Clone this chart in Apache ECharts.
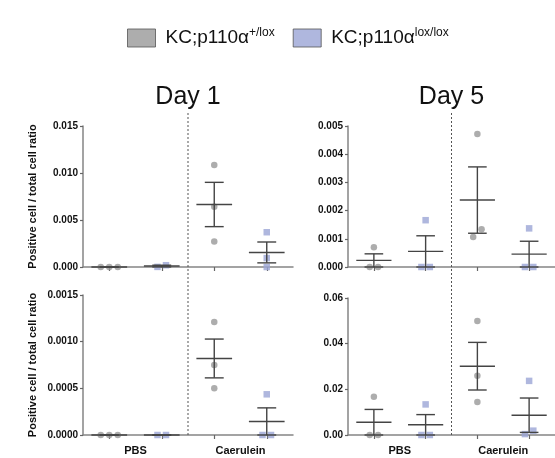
<!DOCTYPE html>
<html>
<head>
<meta charset="utf-8">
<script src="https://cdn.jsdelivr.net/npm/echarts@6/dist/echarts.min.js"></script>
<style>
  html, body { margin: 0; padding: 0; background: #fff; }
  #main { width: 555px; height: 458px; }
</style>
</head>
<body>
<div id="main"></div>
<script>
// groups on the x axis and the two genotypes
var groups = ['PBS', 'Caerulein'];
var seriesNames = ['KC;p110α+/lox', 'KC;p110αlox/lox'];

// values per panel: [PBS values, Caerulein values]
var day1TopHet = [[0, 0, 0], [0.01085, 0.0064, 0.0027]];
var day1TopFlox = [[0.00001, 0.00019], [0.0037, 0.00095, 0]];
var day1BotHet = [[0, 0, 0], [0.00121, 0.00075, 0.0005]];
var day1BotFlox = [[0, 0], [0.000436, 0, 0]];
var day5TopHet = [[0.0007, 0, 0], [0.00472, 0.00106, 0.00134]];
var day5TopFlox = [[0.00166, 0, 0], [0.00137, 0, 0]];
var day5BotHet = [[0.0168, 0, 0], [0.0499, 0.026, 0.0145]];
var day5BotFlox = [[0.0134, 0, 0], [0.0237, 0.0004, 0.0019]];

// y tick labels of each panel
var day1TopTicks = [0, 0.005, 0.010, 0.015];
var day1BotTicks = [0, 0.0005, 0.0010, 0.0015];
var day5TopTicks = [0, 0.001, 0.002, 0.003, 0.004, 0.005];
var day5BotTicks = [0, 0.02, 0.04, 0.06];

var colors = ['#999999', '#9ba5d6'];
var font = 'Liberation Sans';

var panels = [
    { grid: { left: 83, top: 126, width: 210, height: 141 }, ticks: day1TopTicks, digits: 3, data: [day1TopHet, day1TopFlox], bottom: false, title: true },
    { grid: { left: 83, top: 295, width: 210, height: 140 }, ticks: day1BotTicks, digits: 4, data: [day1BotHet, day1BotFlox], bottom: true, title: true },
    { grid: { left: 348, top: 126, width: 210, height: 141 }, ticks: day5TopTicks, digits: 3, data: [day5TopHet, day5TopFlox], bottom: false, title: false },
    { grid: { left: 348, top: 298, width: 210, height: 137 }, ticks: day5BotTicks, digits: 2, data: [day5BotHet, day5BotFlox], bottom: true, title: false }
];

// points that sit at (nearly) the same height are spread sideways
function spread(values, thr) {
    var idx = values.map(function (v, i) { return i; }).sort(function (a, b) { return values[a] - values[b]; });
    var off = values.map(function () { return 0; });
    var cluster = [idx[0]];
    function flush() {
        cluster.forEach(function (k, j) { off[k] = (j - (cluster.length - 1) / 2) * 0.162; });
    }
    for (var j = 1; j < idx.length; j++) {
        if (values[idx[j]] - values[idx[j - 1]] < thr) cluster.push(idx[j]);
        else { flush(); cluster = [idx[j]]; }
    }
    flush();
    return off;
}

function meanSem(v) {
    var n = v.length;
    var m = v.reduce(function (a, b) { return a + b; }, 0) / n;
    var ss = v.reduce(function (a, b) { return a + (b - m) * (b - m); }, 0);
    return [m, Math.sqrt(ss / (n - 1)) / Math.sqrt(n)];
}

function renderBar(params, api) {
    var x = api.value(0), m = api.value(1), s = api.value(2);
    var st = { stroke: '#444', lineWidth: 1.4 };
    function seg(dx1, y1, dx2, y2) {
        var a = api.coord([x + dx1, y1]), b = api.coord([x + dx2, y2]);
        return { type: 'line', shape: { x1: a[0], y1: a[1], x2: b[0], y2: b[1] }, style: st };
    }
    return {
        type: 'group',
        children: [
            seg(0, m - s, 0, m + s),
            seg(-0.18, m + s, 0.18, m + s),
            seg(-0.18, m - s, 0.18, m - s),
            seg(-0.34, m, 0.34, m)
        ]
    };
}

var grids = [], xAxes = [], yAxes = [], series = [];
panels.forEach(function (p, pi) {
    grids.push(p.grid);
    var ticks = p.ticks, top = ticks[ticks.length - 1];
    xAxes.push({
        type: 'value', gridIndex: pi, min: 0, max: 4,
        splitLine: { show: false },
        axisLine: { show: true, onZero: false, lineStyle: { color: '#858585', width: 1.5 } },
        axisTick: { show: true, length: 4, customValues: [0.5, 1.5, 2.5, 3.5], lineStyle: { color: '#666', width: 1.2 } },
        axisLabel: {
            show: p.bottom, customValues: [1, 3], margin: 10,
            formatter: function (v) { return groups[Math.round((v - 1) / 2)]; },
            color: '#111', fontWeight: 'bold', fontSize: 11, fontFamily: font
        }
    });
    yAxes.push({
        type: 'value', gridIndex: pi, min: ticks[0], max: top, interval: ticks[1] - ticks[0],
        splitLine: { show: false },
        axisLine: { show: true, lineStyle: { color: '#858585', width: 1.5 } },
        axisTick: { show: true, length: 3, lineStyle: { color: '#666', width: 1.2 } },
        axisLabel: {
            margin: 5, color: '#111', fontWeight: 'bold', fontSize: 10, fontFamily: font,
            formatter: function (v) { return v.toFixed(p.digits); }
        },
        name: p.title ? 'Positive cell / total cell ratio' : '',
        nameLocation: 'middle', nameGap: 45,
        nameTextStyle: { color: '#111', fontWeight: 'bold', fontSize: 11, fontFamily: font }
    });
    p.data.forEach(function (geno, gi) {
        var pts = [], bars = [];
        geno.forEach(function (vals, ci) {
            var xc = ci * 2 + gi + 0.5;
            var off = spread(vals, top * 0.06);
            vals.forEach(function (v, k) { pts.push([xc + off[k], v]); });
            var ms = meanSem(vals);
            bars.push([xc, ms[0], ms[1]]);
        });
        series.push({
            name: seriesNames[gi], type: 'scatter', xAxisIndex: pi, yAxisIndex: pi,
            symbol: gi === 0 ? 'circle' : 'rect', symbolSize: 6.5,
            itemStyle: { color: colors[gi] }, clip: false, z: 2,
            data: pts
        });
        series.push({
            type: 'custom', xAxisIndex: pi, yAxisIndex: pi, renderItem: renderBar,
            encode: { x: 0, y: 1 }, clip: false, z: 3, silent: true,
            data: bars
        });
    });
});

var chart = echarts.init(document.getElementById('main'), null, { renderer: 'canvas' });
chart.setOption({
    animation: false,
    backgroundColor: '#fff',
    legend: {
        left: 127, top: 27, padding: 0, itemGap: 18, itemWidth: 28, itemHeight: 18,
        data: seriesNames.map(function (n, i) {
            return { name: n, icon: 'rect', itemStyle: { color: colors[i], borderColor: '#555', borderWidth: 1 } };
        }),
        formatter: function (n) {
            return '{m|KC;p110α}{s|' + n.replace('KC;p110α', '') + '}';
        },
        textStyle: {
            rich: {
                m: { fontSize: 19, color: '#111', fontFamily: font, lineHeight: 22, padding: [0, 0, 0, 5] },
                s: { fontSize: 12, color: '#111', fontFamily: font, verticalAlign: 'top', lineHeight: 22 }
            }
        }
    },
    grid: grids,
    xAxis: xAxes,
    yAxis: yAxes,
    series: series
});

// titles and the dotted separators sit over the PBS / Caerulein boundary
var gfx = [];
[[0, 1, 'Day 1'], [2, 3, 'Day 5']].forEach(function (d) {
    var a = chart.convertToPixel({ gridIndex: d[0] }, [2, panels[d[0]].ticks[panels[d[0]].ticks.length - 1]]);
    var b = chart.convertToPixel({ gridIndex: d[1] }, [2, 0]);
    gfx.push({
        type: 'line', shape: { x1: a[0], y1: a[1] - 13, x2: b[0], y2: b[1] + 2 },
        style: { stroke: '#555', lineWidth: 1, lineDash: [2, 2] }, z: 1
    });
    gfx.push({
        type: 'text', x: a[0], y: 85,
        style: { text: d[2], fontSize: 25, fontFamily: font, fill: '#111', align: 'center' }
    });
});
chart.setOption({ graphic: gfx });
</script>
</body>
</html>
